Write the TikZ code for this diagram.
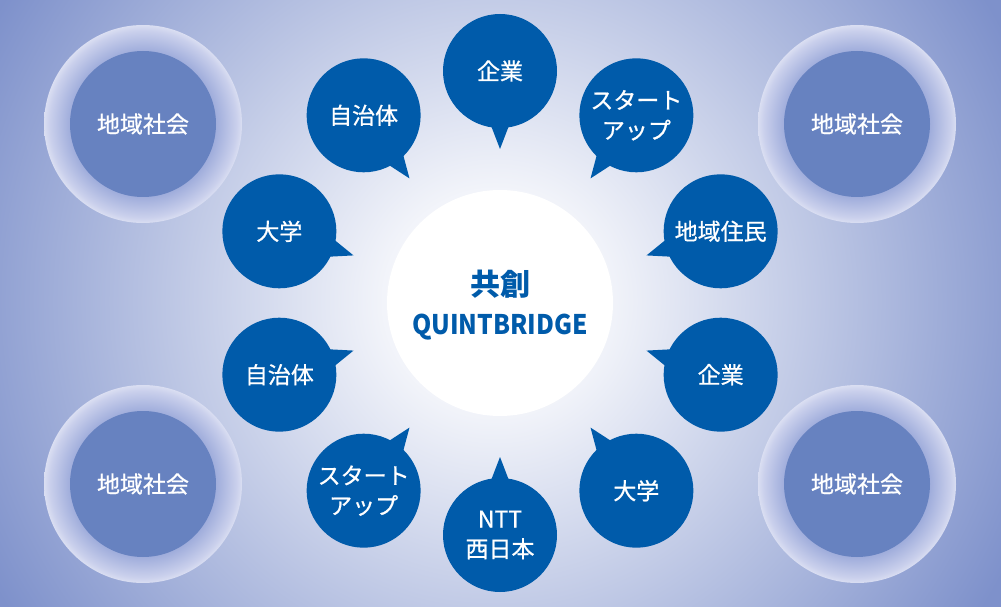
\documentclass[tikz,border=0pt]{standalone}
\usepackage{fontspec}
\usepackage{xcolor}
\usepackage{graphicx}
\usetikzlibrary{calc}

\newfontfamily\jpfont{Noto Sans CJK JP}
\newfontfamily\jpfontmid[FakeBold=0.7]{Noto Sans CJK JP}

\definecolor{bubblecol}{RGB}{0,91,170}
\definecolor{areacol}{RGB}{103,130,192}
\definecolor{bgout}{RGB}{126,145,203}
\definecolor{ringin}{RGB}{156,170,218}
\definecolor{ringout}{RGB}{202,208,236}

\pgfdeclareradialshading{bgglow}{\pgfpoint{0bp}{0bp}}{color(0bp)=(white); color(2.5bp)=(white); color(24bp)=(bgout); color(25bp)=(bgout); color(50bp)=(bgout)}
\pgfdeclareradialshading{ringglow}{\pgfpoint{0bp}{0bp}}{color(0bp)=(ringin); color(18bp)=(ringin); color(23.6bp)=(ringout); color(25bp)=(ringout!70!white); color(50bp)=(ringout!70!white)}

\begin{document}
\begin{tikzpicture}[x=1pt,y=1pt,
    bubble/.style={circle,fill=bubblecol,text=white,minimum size=114pt,inner sep=0pt,align=center,
        font=\jpfontmid\fontsize{23}{30}\selectfont},
    area/.style={circle,fill=areacol,text=white,minimum size=146pt,inner sep=0pt,
        font=\jpfontmid\fontsize{23}{30}\selectfont},
    halo/.style={circle,shade,shading=ringglow,minimum size=198pt,inner sep=0pt},
    coretext/.style={text=bubblecol,inner sep=0pt}]
    \useasboundingbox (0,0) rectangle (1001,606);
    \begin{scope}
        \clip (0,0) rectangle (1001,606);
        \shade[shading=bgglow] (495,305) circle (600);
    \end{scope}
    % local communities in the corners
    \foreach \x/\y/\n in {143/482/nw,857/482/ne,143/122/sw,857/122/se}{
        \node[halo] (halo\n) at (\x,\y) {};
        \node[area] (area\n) at (\x,\y) {地域社会};
    }
    % centre
    \node (core) at (500,303) [circle,fill=white,minimum size=226pt,inner sep=0pt] {};
    \node (cotitle) at (500,322) [coretext,font=\jpfont\bfseries\fontsize{30}{30}\selectfont] {共創};
    \node (coname) at (500,279) [coretext,font=\jpfont\bfseries\fontsize{27}{27}\selectfont] {\scalebox{0.91}[1]{QUINTBRIDGE}};
    % speech bubbles round the centre
    \foreach \ang/\n/\txt in {90/ent1/企業, 54/start1/{スタート\\アップ}, 18/resid/地域住民,
        -18/ent2/企業, -54/univ1/大学, -90/ntt/{NTT\\西日本}, -126/start2/{スタート\\アップ},
        -162/gov1/自治体, 162/univ2/大学, 126/gov2/自治体}{
        \node[bubble] (\n) at ($(core)+(\ang:232)$) {\txt};
        \fill[bubblecol] ($(\n)+(\ang+167:50)$) -- ($(\n)+(\ang+180:78)$) -- ($(\n)+(\ang+193:50)$) -- cycle;
    }
\end{tikzpicture}
\end{document}
